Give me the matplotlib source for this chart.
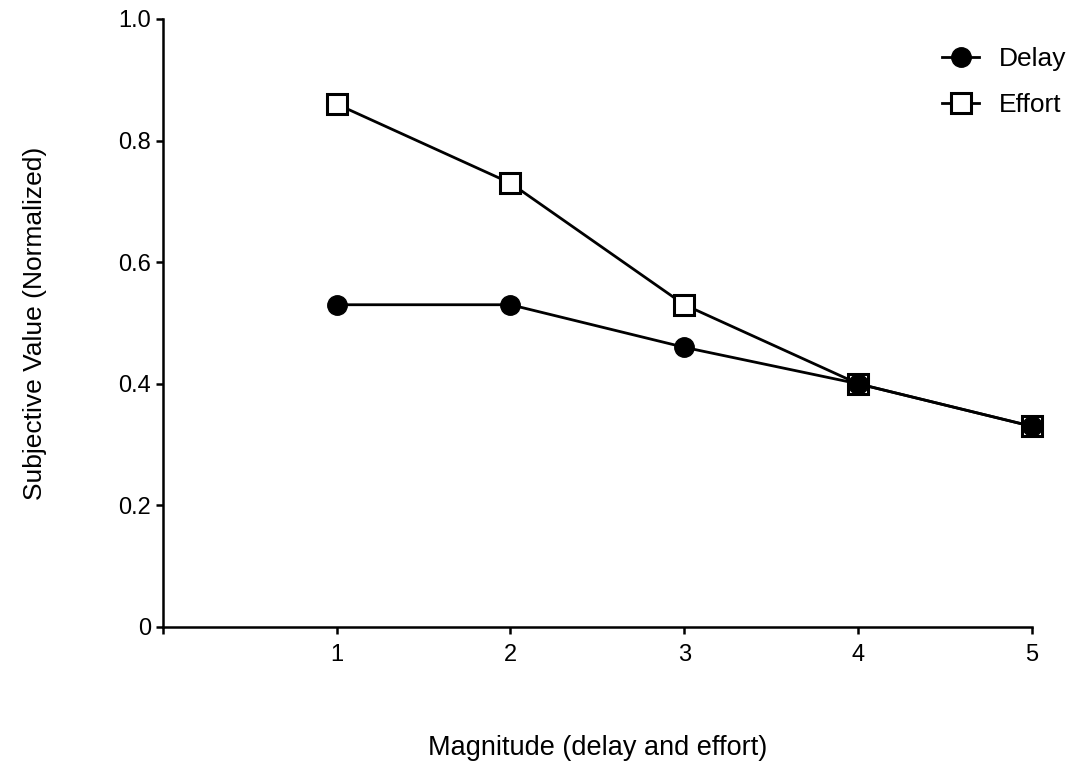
import matplotlib as mpl
mpl.use('Agg')
import matplotlib.pyplot as plt

magnitude = [1, 2, 3, 4, 5]
delay = [0.53, 0.53, 0.46, 0.40, 0.33]
effort = [0.86, 0.73, 0.53, 0.40, 0.33]

yticks = [0, 0.2, 0.4, 0.6, 0.8, 1.0]
ytick_labels = ['0', '0.2', '0.4', '0.6', '0.8', '1.0']

mpl.rcParams.update({
    "font.family": ["Liberation Sans", "DejaVu Sans"],
    "font.size": 17,
    "axes.linewidth": 1.8,
})

fig = plt.figure(figsize=(10.71, 7.65), dpi=100)
ax = fig.add_axes([0.152, 0.1804, 0.8116, 0.7948])

# effort first so delay circles sit on top where they overlap
ax.plot(magnitude, effort, color='black', lw=2.0, marker='s', markersize=15,
        markerfacecolor='white', markeredgecolor='black', markeredgewidth=2.2,
        label='Effort', clip_on=False)
ax.plot(magnitude, delay, color='black', lw=2.0, marker='o', markersize=14,
        markerfacecolor='black', markeredgecolor='black', label='Delay', clip_on=False)

ax.set_xlim(0, 5)
ax.set_ylim(0, 1.0)
ax.set_xticks([0] + magnitude, [''] + [str(m) for m in magnitude])
ax.set_yticks(yticks, ytick_labels)
ax.tick_params(width=1.8, length=5, labelsize=17, pad=3.5)
ax.tick_params(axis='x', pad=7)

for s in ['top', 'right']:
    ax.spines[s].set_visible(False)
ax.spines['bottom'].set_bounds(0, 5)

ax.set_xlabel('Magnitude (delay and effort)', fontsize=19.5, labelpad=50)
ax.set_ylabel('Subjective Value (Normalized)', fontsize=19, labelpad=51)

handles, labels = ax.get_legend_handles_labels()
ax.legend(handles[::-1], labels[::-1], loc='upper left', frameon=False,
          bbox_to_anchor=(0.8796, 0.9386), bbox_transform=fig.transFigure,
          borderaxespad=0, borderpad=0, fontsize=19, handlelength=1.4,
          handletextpad=0.75, labelspacing=0.83)

plt.savefig('out.png', dpi=100)
